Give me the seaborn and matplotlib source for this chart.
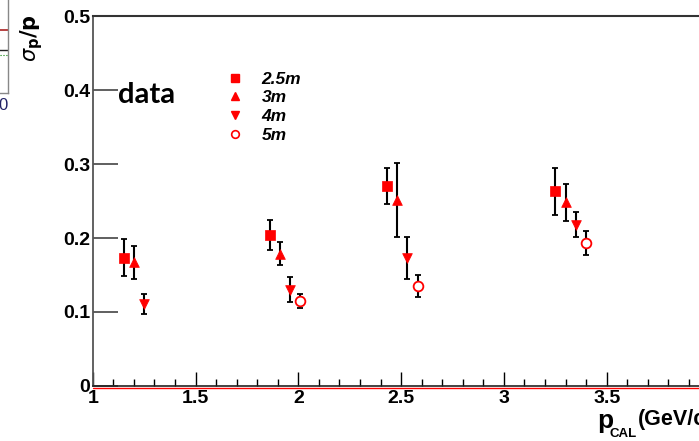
import matplotlib
matplotlib.use("Agg")
import matplotlib.pyplot as plt
import matplotlib.transforms as mtransforms
from matplotlib.lines import Line2D
import seaborn as sns
import pandas as pd
import numpy as np

# ---- data ----
labels = ["2.5m", "3m", "4m", "5m"]
x_25 = [1.15, 1.86, 2.43, 3.25]
y_25 = [0.173, 0.204, 0.270, 0.263]
e_25 = [0.025, 0.020, 0.024, 0.032]
x_3 = [1.20, 1.91, 2.48, 3.30]
y_3 = [0.167, 0.179, 0.251, 0.248]
e_3 = [0.022, 0.016, 0.050, 0.025]
x_4 = [1.25, 1.96, 2.53, 3.35]
y_4 = [0.111, 0.130, 0.173, 0.218]
e_4 = [0.014, 0.017, 0.028, 0.017]
x_5 = [2.01, 2.58, 3.40]
y_5 = [0.115, 0.135, 0.193]
e_5 = [0.010, 0.015, 0.016]
xticks = [1, 1.5, 2, 2.5, 3, 3.5]
yticks = [0, 0.1, 0.2, 0.3, 0.4, 0.5]

sns.set_theme(style="white")
plt.rcParams["font.family"] = ["Liberation Sans", "DejaVu Sans"]
plt.rcParams["text.color"] = "black"
plt.rcParams["xtick.color"] = "black"
plt.rcParams["ytick.color"] = "black"

fig = plt.figure(figsize=(6.99, 4.41), dpi=100)
ax = fig.add_axes([92.7 / 699, 1 - 386 / 441, 1 - 92.7 / 699, (386 - 16) / 441])

series = [
    (x_25, y_25, e_25, "s", True, 7),
    (x_3, y_3, e_3, "^", True, 7),
    (x_4, y_4, e_4, "v", True, 7),
    (x_5, y_5, e_5, "o", False, 7),
]
for (xs, ys, es, m, filled, ms), lab in zip(series, labels):
    ax.errorbar(xs, ys, yerr=es, fmt="none", ecolor="black", elinewidth=1.5,
                capsize=2, capthick=1.3, zorder=2)
    df = pd.DataFrame({"x": xs, "y": ys})
    if filled:
        sns.scatterplot(data=df, x="x", y="y", marker=m, s=ms ** 2, color="red",
                        edgecolor="red", linewidth=0.5, ax=ax, zorder=3, legend=False)
    else:
        sns.scatterplot(data=df, x="x", y="y", marker=m, s=ms ** 2, facecolors="white",
                        edgecolor="red", linewidth=1.3, ax=ax, zorder=3, legend=False)

ax.set_xlim(1, 1 + (699 - 92.7) / 205.6)
ax.set_ylim(0, 0.5)
ax.set_xlabel("")
ax.set_ylabel("")
ax.set_xticks(xticks)
ax.set_xticklabels(["1", "1.5", "2", "2.5", "3", "3.5"], fontsize=14, fontweight="bold",
                   color="black")
ax.set_xticks(np.arange(1, 3.95, 0.1), minor=True)
ax.set_yticks(yticks)
ax.set_yticklabels(["0", "0.1", "0.2", "0.3", "0.4", "0.5"], fontsize=14, fontweight="bold",
                   color="black")
ax.tick_params(axis="x", which="major", direction="in", length=10, width=1, color="black",
               bottom=True, top=False, pad=3)
ax.tick_params(axis="x", which="minor", direction="in", length=5, width=1, color="black",
               bottom=True, top=False)
ax.tick_params(axis="y", which="major", direction="in", length=18, width=1.2, color="#444444",
               left=True, right=False, pad=2)
ax.spines["right"].set_visible(False)
ax.spines["left"].set_color("#555555")
ax.spines["left"].set_linewidth(1.3)
ax.spines["top"].set_color("#333333")
ax.spines["top"].set_linewidth(1.5)
ax.spines["bottom"].set_color("#222222")
ax.spines["bottom"].set_linewidth(1.2)

# red baseline just under the axis
off = mtransforms.offset_copy(ax.get_xaxis_transform(), fig=fig, x=0, y=-1.5, units="dots")
ax.plot([0, 1], [0, 0], color="red", lw=1.0,
        transform=mtransforms.blended_transform_factory(ax.transAxes, off),
        clip_on=False, zorder=1)

# "data" label
fig.text(118 / 699, 1 - 103 / 441, "data", fontsize=21, family=["Lato", "DejaVu Sans"],
         fontweight="bold", color="black", va="baseline", ha="left")

# legend
handles = [
    Line2D([], [], ls="none", marker="s", ms=5.5, color="red"),
    Line2D([], [], ls="none", marker="^", ms=5.5, color="red"),
    Line2D([], [], ls="none", marker="v", ms=5.5, color="red"),
    Line2D([], [], ls="none", marker="o", ms=5.5, mfc="white", mec="red", mew=1.2),
]
leg = fig.legend(handles, labels, loc="upper left", bbox_to_anchor=(218 / 699, 1 - 63 / 441),
                 frameon=False, prop={"weight": "bold", "style": "italic", "size": 12.5},
                 handlelength=1.0, handletextpad=1.0, labelspacing=0.2, borderpad=0)
for t in leg.get_texts():
    t.set_color("black")

# y label
fig.text(32 / 699, 1 - 14 / 441, r"$\sigma_{\mathbf{p}}\mathbf{/p}$", rotation=90,
         fontsize=15, ha="center", va="top", color="black")
# x label (clipped by figure edge, as in the source)
fig.text(597 / 699, 1 - 428 / 441, "p", fontsize=19, fontweight="bold",
         ha="left", va="baseline", color="black")
fig.text(609 / 699, 1 - 437 / 441, "CAL", fontsize=9.5, fontweight="bold",
         ha="left", va="baseline", color="black")
fig.text(638 / 699, 1 - 425 / 441, "(GeV/c)", fontsize=15.5, fontweight="bold",
         ha="left", va="baseline", color="black")

# fragment of neighbouring plot at the left edge
ax2 = fig.add_axes([-0.05, 1 - 93 / 441, 0.062, 93 / 441 + 0.05])
ax2.set_xlim(0, 1)
ax2.set_ylim(0, 1)
ax2.set_xticks([])
ax2.set_yticks([])
for s in ax2.spines.values():
    s.set_color("#888888")
    s.set_linewidth(1)
ax2.plot([0.7, 1], [0.55, 0.55], color="#aa2222", lw=1.2)
ax2.plot([0.7, 1], [0.37, 0.37], color="#222222", lw=1)
ax2.plot([0.8, 1], [0.33, 0.33], color="green", lw=0.8, ls=":")
fig.text(-2 / 699, 1 - 110 / 441, "0", fontsize=12, color="#222266", ha="left", va="baseline")

fig.savefig("out.png", dpi=100)
